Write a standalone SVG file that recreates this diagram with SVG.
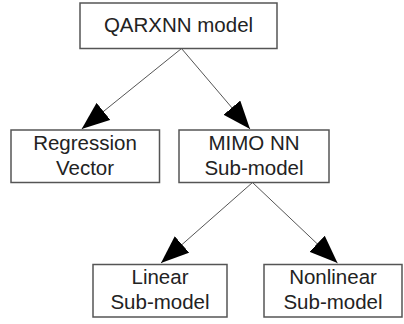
<svg xmlns="http://www.w3.org/2000/svg" width="404" height="324" viewBox="0 0 404 324">
<style>
.box{fill:#fff;stroke:#555;stroke-width:1.5}
.t{font-family:"Liberation Sans",Arial,sans-serif;font-size:20.5px;fill:#222;text-anchor:middle}
.c{stroke:#555;stroke-width:1;fill:none;marker-end:url(#ah)}
</style>
<defs>
<marker id="ah" markerUnits="userSpaceOnUse" markerWidth="28" markerHeight="22" refX="28" refY="11" orient="auto" viewBox="0 0 28 22">
<path d="M0,0 L28,11 L0,22 z" fill="#000"/>
</marker>
</defs>
<g id="connectors">
<line class="c" x1="181.5" y1="48.5" x2="81.7" y2="129"/>
<line class="c" x1="181.5" y1="48.5" x2="250" y2="129"/>
<line class="c" x1="252.5" y1="182.5" x2="161" y2="263"/>
<line class="c" x1="252.5" y1="182.5" x2="337.5" y2="263"/>
</g>
<g id="qarxnn">
<rect class="box" x="80" y="3" width="197" height="45.5"/>
<text class="t" x="178.5" y="32">QARXNN model</text>
</g>
<g id="regression">
<rect class="box" x="11" y="130" width="148.5" height="52.5"/>
<text class="t" x="85" y="149.5">Regression</text>
<text class="t" x="85" y="175">Vector</text>
</g>
<g id="mimo">
<rect class="box" x="179" y="130" width="150" height="52.5"/>
<text class="t" x="254" y="149.5">MIMO NN</text>
<text class="t" x="254" y="175">Sub-model</text>
</g>
<g id="linear">
<rect class="box" x="93" y="264.5" width="134" height="52.5"/>
<text class="t" x="160" y="283.5">Linear</text>
<text class="t" x="160" y="309">Sub-model</text>
</g>
<g id="nonlinear">
<rect class="box" x="264" y="264.5" width="138" height="52.5"/>
<text class="t" x="333" y="283.5">Nonlinear</text>
<text class="t" x="333" y="309">Sub-model</text>
</g>
</svg>
